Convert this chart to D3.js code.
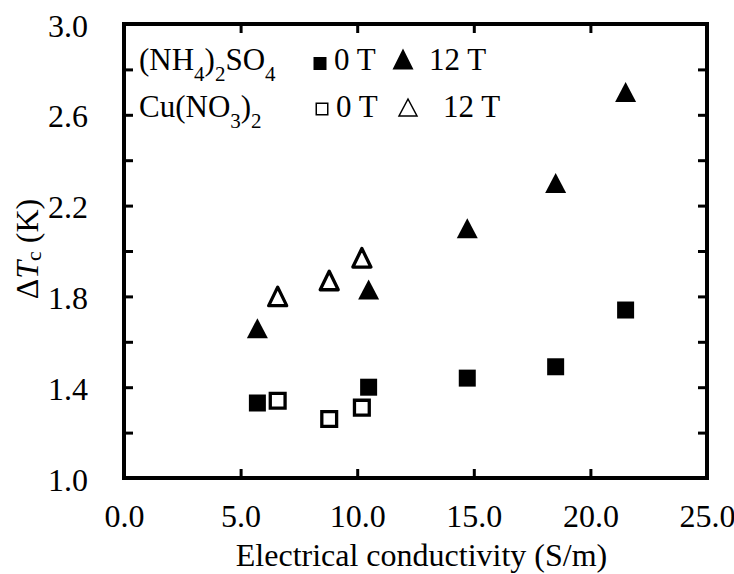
<!DOCTYPE html>
<html>
<head>
<meta charset="utf-8">
<script src="https://cdn.jsdelivr.net/npm/d3@7/dist/d3.min.js"></script>
<style>
  html, body { margin: 0; padding: 0; background: #fff; }
  svg { display: block; }
  svg text { font-family: "Liberation Serif", "Times New Roman", Times, serif; fill: #000; }
</style>
</head>
<body>
<script>
// Electrical conductivity (S/m) and ΔTc (K) for the two electrolytes
const nhConductivity = [5.72, 10.49, 14.72, 18.51, 21.51];
const nhDeltaT0T     = [1.33, 1.40, 1.44, 1.49, 1.74];
const nhDeltaT12T    = [1.66, 1.83, 2.10, 2.30, 2.70];

const cuConductivity = [6.59, 8.80, 10.20];
const cuDeltaT0T     = [1.34, 1.26, 1.31];
const cuDeltaT12T    = [1.80, 1.87, 1.97];

const xTickValues = [0, 5, 10, 15, 20, 25];
const yLabelValues = [1.0, 1.4, 1.8, 2.2, 2.6, 3.0];
const yTickValues = [1.0, 1.2, 1.4, 1.6, 1.8, 2.0, 2.2, 2.4, 2.6, 2.8, 3.0];

const W = 734, H = 574;
const plot = { left: 124, right: 707, top: 24, bottom: 478 };
const SERIF = "'Liberation Serif', 'Times New Roman', Times, serif";
const AXIS_FONT = 32;

const svg = d3.select("body").append("svg")
  .attr("width", W).attr("height", H)
  .attr("font-family", SERIF);

const x = d3.scaleLinear().domain([0, 25]).range([plot.left, plot.right]);
const y = d3.scaleLinear().domain([1.0, 3.0]).range([plot.bottom, plot.top]);

const fmt = d3.format(".1f");
const TICK = 9;

// Axes: inward ticks on all four sides, labels on bottom and left only
function styleAxis(g) {
  g.attr("font-family", SERIF);
  g.select(".domain").remove();
  g.selectAll(".tick line").attr("stroke", "#000").attr("stroke-width", 3);
  g.selectAll(".tick text")
    .attr("font-family", SERIF)
    .attr("font-size", AXIS_FONT).attr("fill", "#000");
}

svg.append("g")
  .attr("transform", `translate(0,${plot.bottom})`)
  .call(d3.axisBottom(x).tickValues(xTickValues).tickSizeInner(-TICK).tickSizeOuter(0)
        .tickPadding(26).tickFormat(fmt))
  .call(styleAxis);

svg.append("g")
  .attr("transform", `translate(0,${plot.top})`)
  .call(d3.axisTop(x).tickValues(xTickValues).tickSizeInner(-TICK).tickSizeOuter(0)
        .tickFormat(""))
  .call(styleAxis);

svg.append("g")
  .attr("transform", `translate(${plot.left},0)`)
  .call(d3.axisLeft(y).tickValues(yTickValues).tickSizeInner(-TICK).tickSizeOuter(0)
        .tickPadding(36)
        .tickFormat(d => yLabelValues.some(v => Math.abs(v - d) < 1e-9) ? fmt(d) : ""))
  .call(styleAxis)
  .call(g => g.selectAll(".tick text").attr("dy", "0.38em"));

svg.append("g")
  .attr("transform", `translate(${plot.right},0)`)
  .call(d3.axisRight(y).tickValues(yTickValues).tickSizeInner(-TICK).tickSizeOuter(0)
        .tickFormat(""))
  .call(styleAxis);

// Plot frame
svg.append("rect")
  .attr("x", plot.left).attr("y", plot.top)
  .attr("width", plot.right - plot.left).attr("height", plot.bottom - plot.top)
  .attr("fill", "none").attr("stroke", "#000").attr("stroke-width", 4);

// Marker paths
function squarePath(cx, cy, s) {
  const p = d3.path();
  p.rect(cx - s / 2, cy - s / 2, s, s);
  return p.toString();
}
function trianglePath(cx, cy, w, h) {
  const p = d3.path();
  p.moveTo(cx, cy - h / 2);
  p.lineTo(cx + w / 2, cy + h / 2);
  p.lineTo(cx - w / 2, cy + h / 2);
  p.closePath();
  return p.toString();
}

const marks = svg.append("g");

function drawSeries(xs, ys, kind) {
  const pts = xs.map((v, i) => [v, ys[i]]);
  const sel = marks.selectAll(null).data(pts).enter().append("path");
  if (kind === "filledSquare") {
    sel.attr("d", d => squarePath(x(d[0]), y(d[1]), 17)).attr("fill", "#000");
  } else if (kind === "openSquare") {
    sel.attr("d", d => squarePath(x(d[0]), y(d[1]), 14.8))
      .attr("fill", "#fff").attr("stroke", "#000").attr("stroke-width", 3.3);
  } else if (kind === "filledTriangle") {
    sel.attr("d", d => trianglePath(x(d[0]), y(d[1]), 21, 20)).attr("fill", "#000");
  } else {
    sel.attr("d", d => trianglePath(x(d[0]), y(d[1]), 18, 18.5))
      .attr("fill", "#fff").attr("stroke", "#000").attr("stroke-width", 3.3)
      .attr("stroke-linejoin", "round");
  }
}

drawSeries(cuConductivity, cuDeltaT0T, "openSquare");
drawSeries(cuConductivity, cuDeltaT12T, "openTriangle");
drawSeries(nhConductivity, nhDeltaT0T, "filledSquare");
drawSeries(nhConductivity, nhDeltaT12T, "filledTriangle");

// Legend
const LF = 31, SUB = 21, SUBDY = 11;
const legend = svg.append("g");

// Chemical formula with subscripted parts; each tspan shifts relative to the previous one
function formula(xPos, yPos, parts) {
  const t = legend.append("text").attr("x", xPos).attr("y", yPos).attr("font-size", LF);
  let offset = 0;
  parts.forEach(([s, sub]) => {
    const target = sub ? SUBDY : 0;
    t.append("tspan")
      .attr("font-size", sub ? SUB : LF)
      .attr("dy", target - offset)
      .text(s);
    offset = target;
  });
}

formula(139, 70, [["(NH"], ["4", true], [")"], ["2", true], ["SO"], ["4", true]]);
formula(139, 117, [["Cu(NO"], ["3", true], [")"], ["2", true]]);

legend.append("path").attr("d", squarePath(320, 63.5, 13)).attr("fill", "#000");
legend.append("text").attr("x", 334).attr("y", 70).attr("font-size", LF).text("0 T");
legend.append("path").attr("d", trianglePath(403, 59, 21, 21)).attr("fill", "#000");
legend.append("text").attr("x", 429).attr("y", 70).attr("font-size", LF).text("12 T");

legend.append("path").attr("d", squarePath(322, 109, 11.5))
  .attr("fill", "none").attr("stroke", "#000").attr("stroke-width", 1.5);
legend.append("text").attr("x", 336).attr("y", 117).attr("font-size", LF).text("0 T");
legend.append("path").attr("d", trianglePath(408, 107.5, 18, 17))
  .attr("fill", "none").attr("stroke", "#000").attr("stroke-width", 1.5);
legend.append("text").attr("x", 443).attr("y", 117).attr("font-size", LF).text("12 T");

// Axis titles
svg.append("text")
  .attr("x", (plot.left + plot.right) / 2 + 6).attr("y", 566)
  .attr("text-anchor", "middle").attr("font-size", AXIS_FONT)
  .text("Electrical conductivity (S/m)");

const yTitle = svg.append("text")
  .attr("transform", `translate(38,${(plot.top + plot.bottom) / 2 - 2}) rotate(-90)`)
  .attr("text-anchor", "middle").attr("font-size", AXIS_FONT);
yTitle.append("tspan").text("Δ");
yTitle.append("tspan").attr("font-style", "italic").text("T");
yTitle.append("tspan").attr("font-size", 22).attr("dy", 3).text("c");
yTitle.append("tspan").attr("dy", -3).text(" (K)");
</script>
</body>
</html>
